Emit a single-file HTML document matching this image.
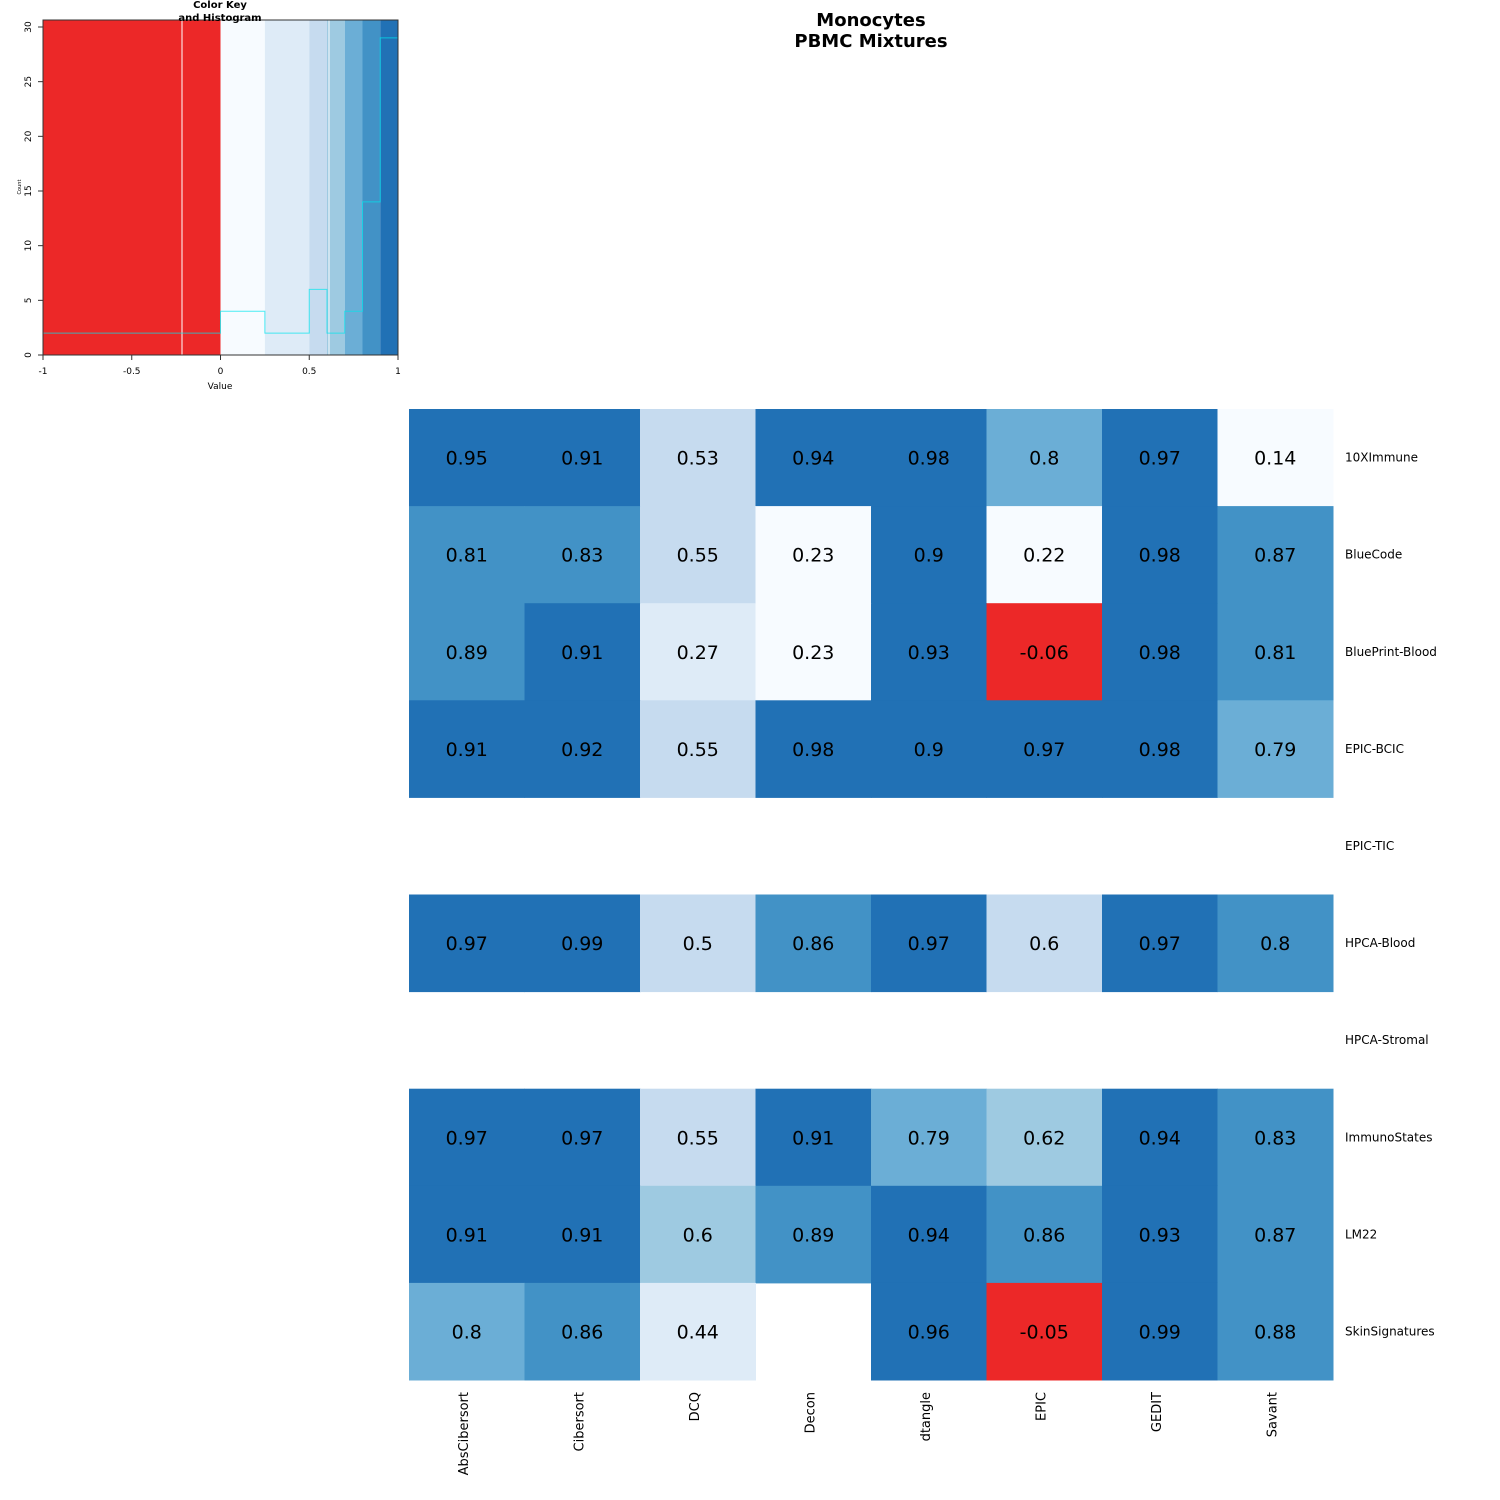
<!DOCTYPE html>
<html><head><meta charset="utf-8"><style>
body{margin:0;background:#fff;}
svg{display:block;font-family:"DejaVu Sans","Liberation Sans",sans-serif;}
</style></head><body>
<svg id="chart" width="1500" height="1500">
<text x="871" y="26" text-anchor="middle" font-size="18" font-weight="bold">Monocytes</text>
<text x="871" y="47" text-anchor="middle" font-size="18" font-weight="bold">PBMC Mixtures</text>
<g id="key"></g>
<g id="cells"></g>
</svg>
<script>
const rows=["10XImmune","BlueCode","BluePrint-Blood","EPIC-BCIC","EPIC-TIC","HPCA-Blood","HPCA-Stromal","ImmunoStates","LM22","SkinSignatures"];
const cols=["AbsCibersort","Cibersort","DCQ","Decon","dtangle","EPIC","GEDIT","Savant"];
const values=[
[0.95,0.91,0.53,0.94,0.98,0.798,0.97,0.14],
[0.81,0.83,0.55,0.23,0.9,0.22,0.98,0.87],
[0.89,0.91,0.27,0.23,0.93,-0.06,0.98,0.81],
[0.91,0.92,0.55,0.98,0.9,0.97,0.98,0.79],
[null,null,null,null,null,null,null,null],
[0.97,0.99,0.5,0.86,0.97,0.599,0.97,0.802],
[null,null,null,null,null,null,null,null],
[0.97,0.97,0.55,0.91,0.79,0.62,0.94,0.83],
[0.91,0.91,0.601,0.89,0.94,0.86,0.93,0.87],
[0.798,0.86,0.44,null,0.96,-0.05,0.99,0.88]];
const breaks=[-1,0,0.25,0.5,0.6,0.7,0.8,0.9,1];
const colors=["#ec2828","#f7fbff","#deebf7","#c6dbef","#9ecae1","#6baed6","#4292c6","#2171b5"];
const histCounts=[2,4,2,6,2,4,14,29];
const xTicks=[-1,-0.5,0,0.5,1];
const yTicks=[0,5,10,15,20,25,30];
const NS="http://www.w3.org/2000/svg";
function mk(tag,attrs,parent,txt){const e=document.createElementNS(NS,tag);for(const k in attrs)e.setAttribute(k,attrs[k]);if(txt!==undefined)e.textContent=txt;parent.appendChild(e);return e;}
function colorFor(v){for(let i=0;i<colors.length;i++){if(v<breaks[i+1])return colors[i];}return colors[colors.length-1];}
const X0=409,CW=115.5,Y0=409,RH=97.1;
const cx=i=>X0+i*CW, ry=j=>Y0+j*RH;
const cells=document.getElementById('cells');
values.forEach((row,j)=>{row.forEach((v,i)=>{if(v===null)return;
const r=mk('rect',{x:cx(i),y:ry(j),width:CW+0.5,height:RH+0.5,fill:colorFor(v)},cells);


const t=mk('text',{x:cx(i)+CW/2,y:ry(j)+RH/2+7,'text-anchor':'middle','font-size':19,fill:'#000'},cells,String(Math.round(v*100)/100));


});});
rows.forEach((n,j)=>{const t=mk('text',{x:1345,y:ry(j)+RH/2+4,'font-size':12},cells,n);

});
cols.forEach((n,i)=>{const x=cx(i)+CW/2+1;const t=mk('text',{x:x,y:1392,'font-size':13,'text-anchor':'end',transform:'rotate(-90 '+x+' 1392)'},cells,n);

});
const key=document.getElementById('key');
const KX0=43,KX1=398,KY0=355,KY30=27;
const kx=v=>KX0+(v+1)/2*(KX1-KX0);
const ky=c=>KY0-c*(KY0-KY30)/30;
colors.forEach((c,i)=>{const r=mk('rect',{x:kx(breaks[i]),y:20,width:kx(breaks[i+1])-kx(breaks[i]),height:KY0-20,fill:c},key);

});
mk('line',{x1:182,x2:182,y1:20,y2:355,stroke:'#fff','stroke-width':1},key);
mk('line',{x1:329,x2:329,y1:20,y2:355,stroke:'#fff','stroke-width':1},key);
let d='M'+kx(breaks[0])+' '+ky(histCounts[0]);
histCounts.forEach((c,i)=>{d+=' L'+kx(breaks[i])+' '+ky(c)+' L'+kx(breaks[i+1])+' '+ky(c);});
const hl=mk('path',{d:d,fill:'none',stroke:'#00e5ee','stroke-width':1,'stroke-opacity':0.7},key);


mk('rect',{x:KX0,y:20,width:KX1-KX0,height:KY0-20,fill:'none',stroke:'#333','stroke-width':1},key);
xTicks.forEach(v=>{mk('line',{x1:kx(v),x2:kx(v),y1:355,y2:360,stroke:'#333'},key);
const t=mk('text',{x:kx(v),y:374,'font-size':9,'text-anchor':'middle'},key,String(v));

});
yTicks.forEach(v=>{mk('line',{x1:38,x2:43,y1:ky(v),y2:ky(v),stroke:'#333'},key);
const y=ky(v);const t=mk('text',{x:31,y:y,'font-size':9,'text-anchor':'middle',transform:'rotate(-90 31 '+y+')'},key,String(v));

});
const xl=mk('text',{x:220,y:389,'font-size':9,'text-anchor':'middle'},key,'Value');


const yl=mk('text',{x:21,y:187,'font-size':5,'text-anchor':'middle',transform:'rotate(-90 21 187)'},key,'Count');


const kt=mk('text',{x:220,y:8,'font-size':10,'font-weight':'bold','text-anchor':'middle'},key,'Color Key');


const kt2=mk('text',{x:220,y:21,'font-size':10,'font-weight':'bold','text-anchor':'middle'},key,'and Histogram');


</script>
</body></html>
